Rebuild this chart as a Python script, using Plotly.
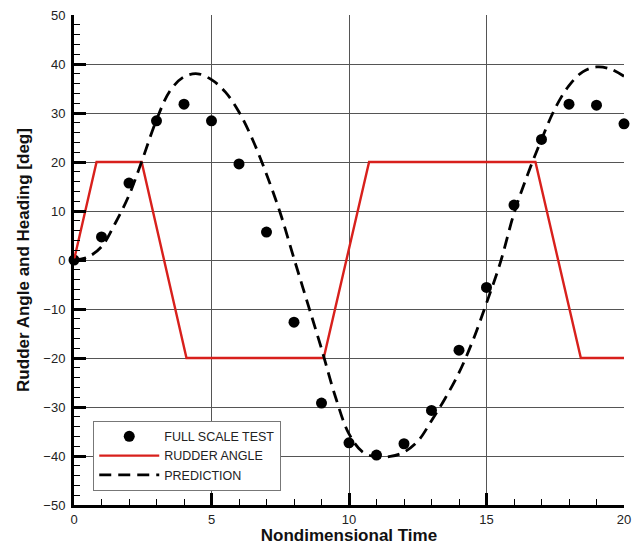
import plotly.graph_objects as go

# Full scale test (heading, deg) at integer times
test_t = list(range(0, 21))
test_heading = [0.0, 4.7, 15.7, 28.4, 31.8, 28.4, 19.6, 5.7, -12.7, -29.2, -37.3,
                -39.8, -37.5, -30.7, -18.4, -5.6, 11.2, 24.6, 31.8, 31.6, 27.8]

# Rudder angle (deg) command
rudder_t = [0.0, 0.82, 2.46, 4.09, 9.08, 10.73, 16.78, 18.43, 20.0]
rudder_angle = [0, 20, 20, -20, -20, 20, 20, -20, -20]

# Prediction (heading, deg)
pred_t = [0, 0.5, 1, 1.5, 2, 2.5, 3, 3.5, 4, 4.5, 5, 5.5, 6, 6.5, 7, 7.5, 8, 8.5,
          9, 9.5, 10, 10.5, 11, 11.5, 12, 12.5, 13, 13.5, 14, 14.5, 15, 15.5, 16,
          16.5, 17, 17.5, 18, 18.5, 19, 19.5, 20]
pred_heading = [0.0, 0.6, 2.7, 7.5, 13.2, 20.7, 28.6, 34.6, 37.4, 38.0, 36.8, 34.3,
                30.2, 24.5, 17.5, 9.6, 0.3, -8.9, -18.1, -27.8, -35.5, -39.2, -40.2,
                -40.1, -39.2, -37.0, -32.8, -28.2, -23.0, -16.5, -8.8, -0.6, 9.5,
                17.5, 24.6, 31.0, 35.6, 38.4, 39.4, 39.0, 37.5]

font_family = "Liberation Sans, Arial, sans-serif"

fig = go.Figure()
fig.add_trace(go.Scatter(
    x=test_t, y=test_heading, mode="markers", name="FULL SCALE TEST",
    marker=dict(color="black", size=11, symbol="circle"), cliponaxis=False))
fig.add_trace(go.Scatter(
    x=rudder_t, y=rudder_angle, mode="lines", name="RUDDER ANGLE",
    line=dict(color="#d8201c", width=2.4)))
fig.add_trace(go.Scatter(
    x=pred_t, y=pred_heading, mode="lines", name="PREDICTION",
    line=dict(color="black", width=2.8, dash="12px,7px", shape="spline", smoothing=1.0)))

fig.update_layout(
    width=638, height=545,
    margin=dict(l=74, r=14, t=15, b=40),
    paper_bgcolor="white", plot_bgcolor="white",
    font=dict(family=font_family, color="#222222"),
    showlegend=True,
    legend=dict(
        x=0.035, y=0.172, xanchor="left", yanchor="top",
        bgcolor="white", bordercolor="#777777", borderwidth=1,
        font=dict(size=12.5, color="#222222"),
        tracegroupgap=0, itemwidth=60,
    ),
)

fig.update_xaxes(
    range=[0, 20], tickvals=[0, 5, 10, 15, 20], automargin=False,
    showgrid=True, gridcolor="#555555", gridwidth=1, zeroline=False,
    showline=True, linecolor="black", linewidth=3,
    ticks="inside", ticklen=12, tickwidth=3, tickcolor="black",
    tickfont=dict(size=13, color="#222222"),
    ticklabelstandoff=0,
    minor=dict(dtick=1, ticks="inside", ticklen=6, tickwidth=1, tickcolor="black", showgrid=False),
    title=dict(text="<b>Nondimensional Time</b>", font=dict(size=17, color="#111111"), standoff=0),
)
fig.update_yaxes(
    range=[-50, 50], tickvals=list(range(-50, 51, 10)), automargin=False,
    showgrid=True, gridcolor="#555555", gridwidth=1, zeroline=False,
    showline=True, linecolor="black", linewidth=3,
    ticks="inside", ticklen=12, tickwidth=3, tickcolor="black",
    tickfont=dict(size=13, color="#222222"),
    ticklabelstandoff=3,
    minor=dict(dtick=2, ticks="inside", ticklen=6, tickwidth=1, tickcolor="black", showgrid=False),
    title=dict(text="<b>Rudder Angle and Heading [deg]</b>", font=dict(size=17, color="#111111"), standoff=10),
)

fig.write_html("out.html")
